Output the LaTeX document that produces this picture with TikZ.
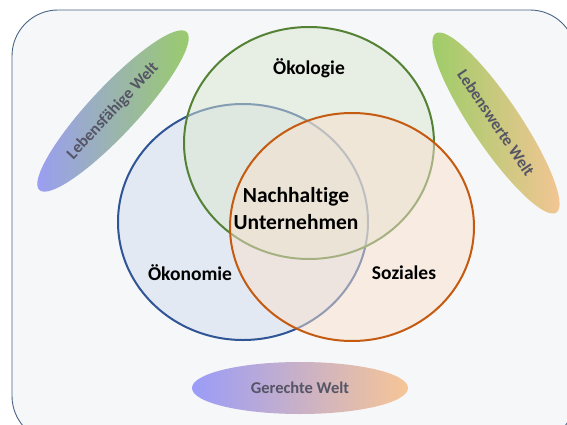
\documentclass[tikz,border=0pt]{standalone}
\usepackage{fontspec}
\setmainfont[Ligatures={NoCommon,NoContextual}]{Carlito}
\usetikzlibrary{shapes.geometric}
\definecolor{bgfill}{HTML}{F6F7F8}
\definecolor{frame}{HTML}{4A6585}
\definecolor{ecoline}{HTML}{2F5597}
\definecolor{ecofill}{HTML}{D2DCEE}
\definecolor{ologline}{HTML}{548235}
\definecolor{ologfill}{HTML}{DAE6D0}
\definecolor{socline}{HTML}{C55A11}
\definecolor{socfill}{HTML}{F8E0CE}
\definecolor{violet}{HTML}{9A9CF8}
\definecolor{lgreen}{HTML}{9ACD66}
\definecolor{peach}{HTML}{F7C596}
\definecolor{welttext}{HTML}{555566}
\tikzset{
  circ/.style={line width=2pt, fill opacity=0.5},
  lbl/.style={font=\bfseries\fontsize{19.5}{22}\selectfont, text=black},
  welt/.style={ellipse, inner sep=0pt, minimum width=216pt, minimum height=48pt,
    font=\bfseries\fontsize{16.5}{18}\selectfont, text=welttext},
}
\begin{document}
\begin{tikzpicture}[x=1pt,y=-1pt]
\useasboundingbox (0,0) rectangle (567,425);
\clip (0,0) rectangle (567,425);
\draw[frame, fill=bgfill, line width=0.9pt, rounded corners=46pt] (12,10) rectangle (576,442);
% circles
\draw[circ, draw=ecoline, fill=ecofill] (243,222) ellipse [x radius=125pt, y radius=118pt];
\draw[circ, draw=ologline, fill=ologfill] (309,143) ellipse [x radius=125pt, y radius=116pt];
\draw[circ, draw=socline, fill=socfill] (352,227) ellipse [x radius=122pt, y radius=114pt];
% labels
\node[lbl] (okol) at (309,68) {Ökologie};
\node[lbl] (okon) at (190,273) {Ökonomie};
\node[lbl] (soz) at (404,273) {Soziales};
\node[lbl, font=\bfseries\fontsize{21.5}{27}\selectfont, align=center] (nach) at (296,209) {Nachhaltige\\Unternehmen};
% outer ellipses
\node[welt, rotate=47, left color=violet, right color=lgreen] (lf) at (113,111) {Lebensfähige Welt};
\node[welt, rotate=-56, left color=lgreen, right color=peach] (lw) at (496,123) {Lebenswerte Welt};
\node[welt, minimum height=52pt, left color=violet, right color=peach] (gw) at (300,388) {Gerechte Welt};
\end{tikzpicture}
\end{document}
